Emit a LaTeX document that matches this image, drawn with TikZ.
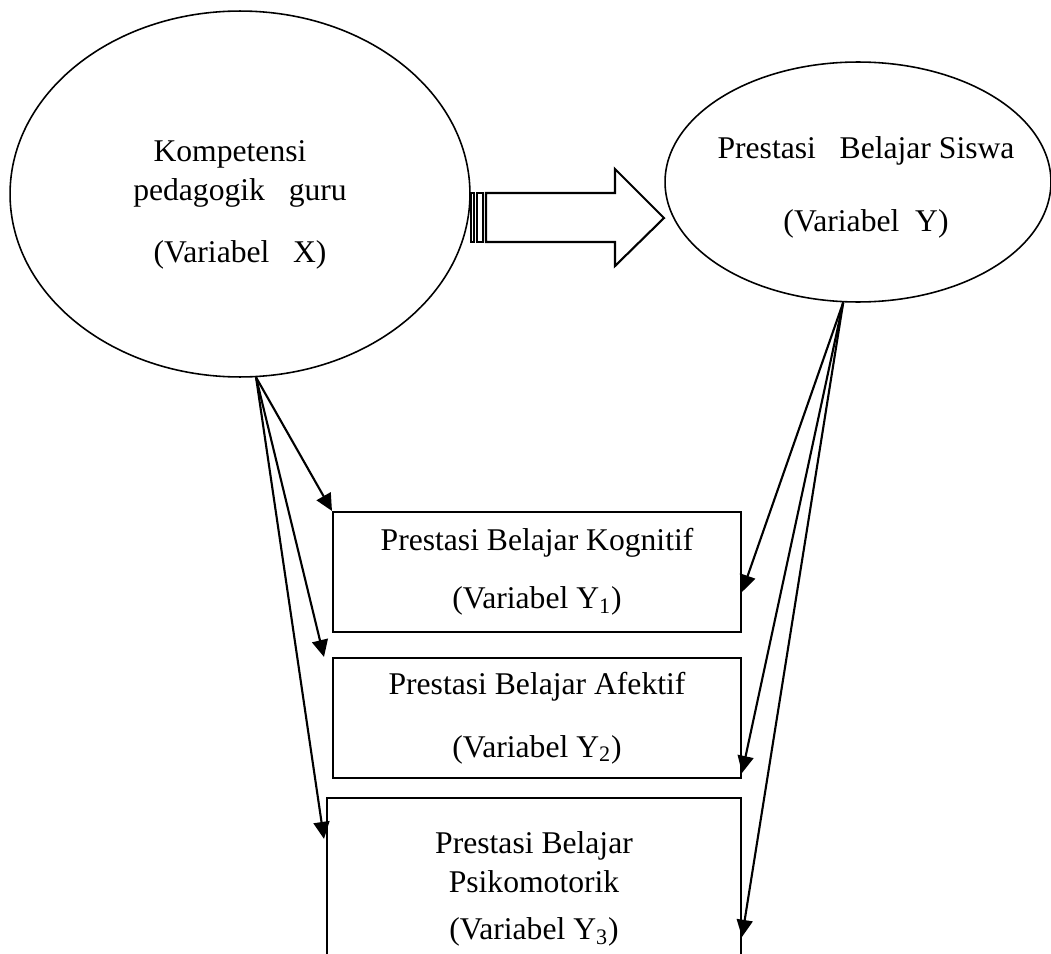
\documentclass[tikz,border=0pt]{standalone}
\usepackage{fontspec}
\setmainfont{Liberation Serif}
\usetikzlibrary{arrows.meta, shapes.geometric, positioning}

\tikzset{
  oval/.style={draw, ellipse, line width=0.9pt, inner sep=0pt},
  varbox/.style={draw, rectangle, line width=1.2pt, align=center, inner sep=0pt},
  link/.style={-{Triangle[length=0.34cm,width=0.32cm]}, line width=1.2pt},
}

\begin{document}
\begin{tikzpicture}[x=0.02cm, y=-0.02cm, font=\fontsize{18}{22}\selectfont, on grid]
			\clip (0,0) rectangle (1051,953);
			\node[oval, minimum width=9.2cm, minimum height=7.32cm] (X) at (240,194) {};
			\node[align=center] (Xtext) at (240,205) {Kompetensi\hspace*{0.4cm}\\ pedagogik~~~guru\\[0.47cm] (Variabel~~~X)};
			\node[oval, minimum width=7.72cm, minimum height=4.8cm] (Y) at (858,182) {};
			\node[align=center] (Ytext) at (866,187) {Prestasi~~~Belajar Siswa\\[0.69cm] (Variabel~~Y)};
			\node[varbox, minimum width=8.16cm, minimum height=2.4cm] (K1) at (537,572) {Prestasi Belajar Kognitif\\[0.39cm] (Variabel Y\textsubscript{1})};
			\node[varbox, minimum width=8.16cm, minimum height=2.4cm] (A2) [below=2.92cm of K1] {Prestasi Belajar Afektif\\[0.49cm] (Variabel Y\textsubscript{2})};
			\node[varbox, minimum width=8.28cm, minimum height=3.64cm] (P3) [below=3.42cm of A2, xshift=-0.06cm] {Prestasi Belajar\\ Psikomotorik\\[0.17cm] (Variabel Y\textsubscript{3})};
			\draw[line width=1.2pt] (471,193) rectangle (474,242);
			\draw[line width=1.2pt] (477,193) rectangle (483,242);
			\draw[line width=1.2pt] (486,193) -- (615,193) -- (615,169) -- (664,218) -- (615,266) -- (615,242) -- (486,242) -- cycle;
			\draw[link] (X.-85) -- (K1.north west);
			\draw[link] (X.-85) -- ([xshift=-0.16cm]A2.north west);
			\draw[link] (X.-85) -- ([xshift=-0.04cm, yshift=-0.84cm]P3.north west);
			\draw[link] (Y.-97) -- ([yshift=-0.4cm]K1.east);
			\draw[link] (Y.-97) -- ([yshift=-1.1cm]A2.east);
			\draw[link] (Y.-97) -- ([yshift=-2.8cm]P3.north east);
		\end{tikzpicture}
\end{document}
